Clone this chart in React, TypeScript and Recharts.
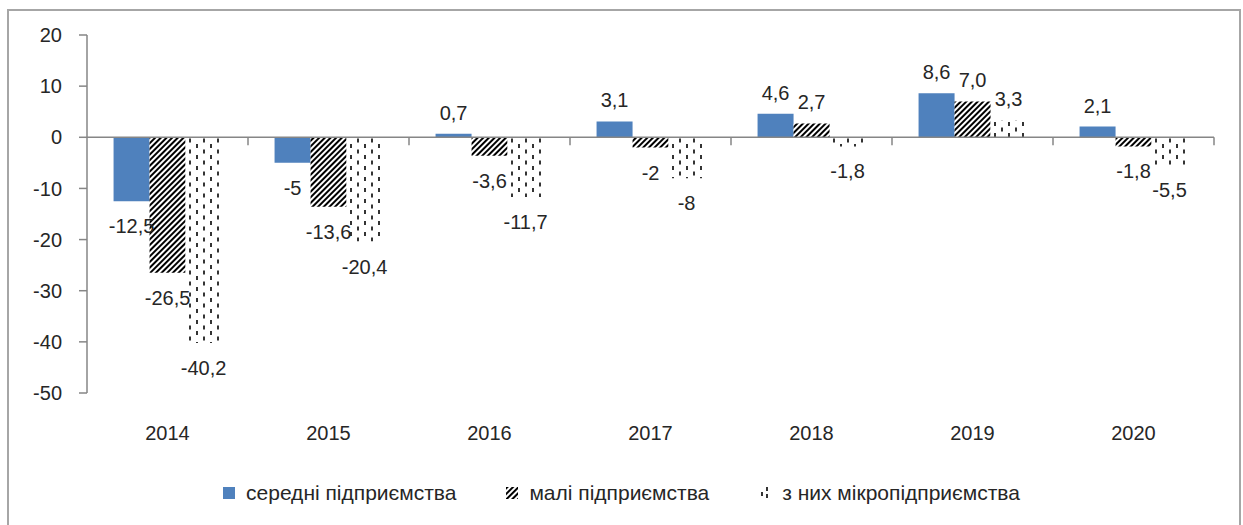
import { Bar, BarChart, LabelList, Legend, ReferenceLine, XAxis, YAxis } from 'recharts';

const years = ['2014', '2015', '2016', '2017', '2018', '2019', '2020'];
const medium = [-12.5, -5, 0.7, 3.1, 4.6, 8.6, 2.1];
const small = [-26.5, -13.6, -3.6, -2, 2.7, 7.0, -1.8];
const micro = [-40.2, -20.4, -11.7, -8, -1.8, 3.3, -5.5];
const mediumLabels = ['-12,5', '-5', '0,7', '3,1', '4,6', '8,6', '2,1'];
const smallLabels = ['-26,5', '-13,6', '-3,6', '-2', '2,7', '7,0', '-1,8'];
const microLabels = ['-40,2', '-20,4', '-11,7', '-8', '-1,8', '3,3', '-5,5'];
const yTicks = [-50, -40, -30, -20, -10, 0, 10, 20];

const seriesNames = ['середні підприємства', 'малі підприємства', 'з них мікропідприємства'];

const data = years.map((year, i) => ({
  year,
  medium: medium[i],
  small: small[i],
  micro: micro[i],
}));

const FONT = '"Liberation Sans", Arial, sans-serif';
const AXIS = '#868686';
const TEXT = '#262626';
const BLUE = '#4F81BD';

function makeLabel(labels: string[], values: number[]) {
  return (props: any) => {
    const { x, y, width, height, index } = props;
    const top = Math.min(y, y + height);
    const bottom = Math.max(y, y + height);
    const v = values[index];
    const cy = v >= 0 ? top - 21 : bottom + 25;
    return (
      <text
        x={x + width / 2}
        y={cy}
        textAnchor="middle"
        dominantBaseline="central"
        fontSize={20}
        fontFamily={FONT}
        fill={TEXT}
      >
        {labels[index]}
      </text>
    );
  };
}

function ZeroAxis(props: any) {
  const { x1, x2, y1 } = props;
  const n = years.length;
  const step = (x2 - x1) / n;
  return (
    <g>
      <line x1={x1} x2={x2} y1={y1} y2={y1} stroke={AXIS} strokeWidth={1.5} />
      {years.map((_, i) => (
        <line
          key={i}
          x1={x1 + (i + 1) * step}
          x2={x1 + (i + 1) * step}
          y1={y1}
          y2={y1 + 8}
          stroke={AXIS}
          strokeWidth={1.5}
        />
      ))}
    </g>
  );
}

function YearTick({ x, y, payload }: any) {
  return (
    <text x={x} y={y + 40} textAnchor="middle" dominantBaseline="central" fontSize={20} fontFamily={FONT} fill={TEXT}>
      {payload.value}
    </text>
  );
}

function LegendIcon({ i }: { i: number }) {
  if (i === 0) {
    return (
      <svg width={12} height={12}>
        <rect width={12} height={12} fill={BLUE} />
      </svg>
    );
  }
  if (i === 1) {
    return (
      <svg width={12} height={12}>
        <rect width={12} height={12} fill="url(#hatch)" />
      </svg>
    );
  }
  // dotted icon: a few short dashes, like the bars
  return (
    <svg width={12} height={12}>
      <g stroke="#000" strokeWidth={1.6}>
        <line x1={3} y1={5} x2={3} y2={9} />
        <line x1={8} y1={0} x2={8} y2={4} />
        <line x1={8} y1={7} x2={8} y2={11} />
      </g>
    </svg>
  );
}

function LegendContent() {
  return (
    <div
      style={{
        height: 60,
        display: 'flex',
        justifyContent: 'center',
        alignItems: 'flex-start',
        paddingTop: 28,
        boxSizing: 'border-box',
        gap: 50,
        fontFamily: FONT,
        fontSize: 21,
        color: TEXT,
        paddingLeft: 20,
      }}
    >
      {seriesNames.map((name, i) => (
        <span key={name} style={{ display: 'flex', alignItems: 'center', lineHeight: '24px' }}>
          <LegendIcon i={i} />
          <span style={{ marginLeft: 11 }}>{name}</span>
        </span>
      ))}
    </div>
  );
}

export default function App() {
  return (
    <>
      <svg width={0} height={0} style={{ position: 'absolute' }}>
        <defs>
          <pattern id="hatch" width={4} height={4} patternUnits="userSpaceOnUse" patternTransform="rotate(45)">
            <rect width={4} height={4} fill="#fff" />
            <line x1={1} y1={0} x2={1} y2={4} stroke="#000" strokeWidth={2} />
          </pattern>
          <pattern id="dots" width={14} height={11} patternUnits="userSpaceOnUse">
            <rect width={14} height={11} fill="#fff" />
            <line x1={6} y1={1} x2={6} y2={5} stroke="#000" strokeWidth={1.6} />
            <line x1={13} y1={6.5} x2={13} y2={10.5} stroke="#000" strokeWidth={1.6} />
          </pattern>
        </defs>
      </svg>
      <div
        style={{
          position: 'absolute',
          left: 7,
          top: 9,
          width: 1230,
          height: 530,
          border: '2px solid #a6a6a6',
          background: '#fff',
        }}
      >
        <BarChart
          width={1230}
          height={512}
          data={data}
          margin={{ top: 24, right: 25, left: 0, bottom: 10 }}
          barCategoryGap="16.5%"
          barGap={0}
        >
          <XAxis
            dataKey="year"
            axisLine={false}
            tickLine={false}
            tickSize={0}
            tickMargin={0}
            height={60}
            tick={<YearTick />}
          />
          <YAxis
            domain={[-50, 20]}
            ticks={yTicks}
            width={78}
            tickSize={8}
            tickMargin={17}
            axisLine={{ stroke: AXIS, strokeWidth: 1.5 }}
            tickLine={{ stroke: AXIS, strokeWidth: 1.5 }}
            tick={{ fill: TEXT, fontSize: 20, fontFamily: FONT }}
            allowDataOverflow
          />
          <Legend verticalAlign="bottom" height={60} content={<LegendContent />} />
          <Bar dataKey="medium" name={seriesNames[0]} fill={BLUE} isAnimationActive={false}>
            <LabelList dataKey="medium" content={makeLabel(mediumLabels, medium)} />
          </Bar>
          <Bar dataKey="small" name={seriesNames[1]} fill="url(#hatch)" isAnimationActive={false}>
            <LabelList dataKey="small" content={makeLabel(smallLabels, small)} />
          </Bar>
          <Bar dataKey="micro" name={seriesNames[2]} fill="url(#dots)" isAnimationActive={false}>
            <LabelList dataKey="micro" content={makeLabel(microLabels, micro)} />
          </Bar>
          <ReferenceLine y={0} shape={<ZeroAxis />} ifOverflow="visible" />
        </BarChart>
      </div>
    </>
  );
}
